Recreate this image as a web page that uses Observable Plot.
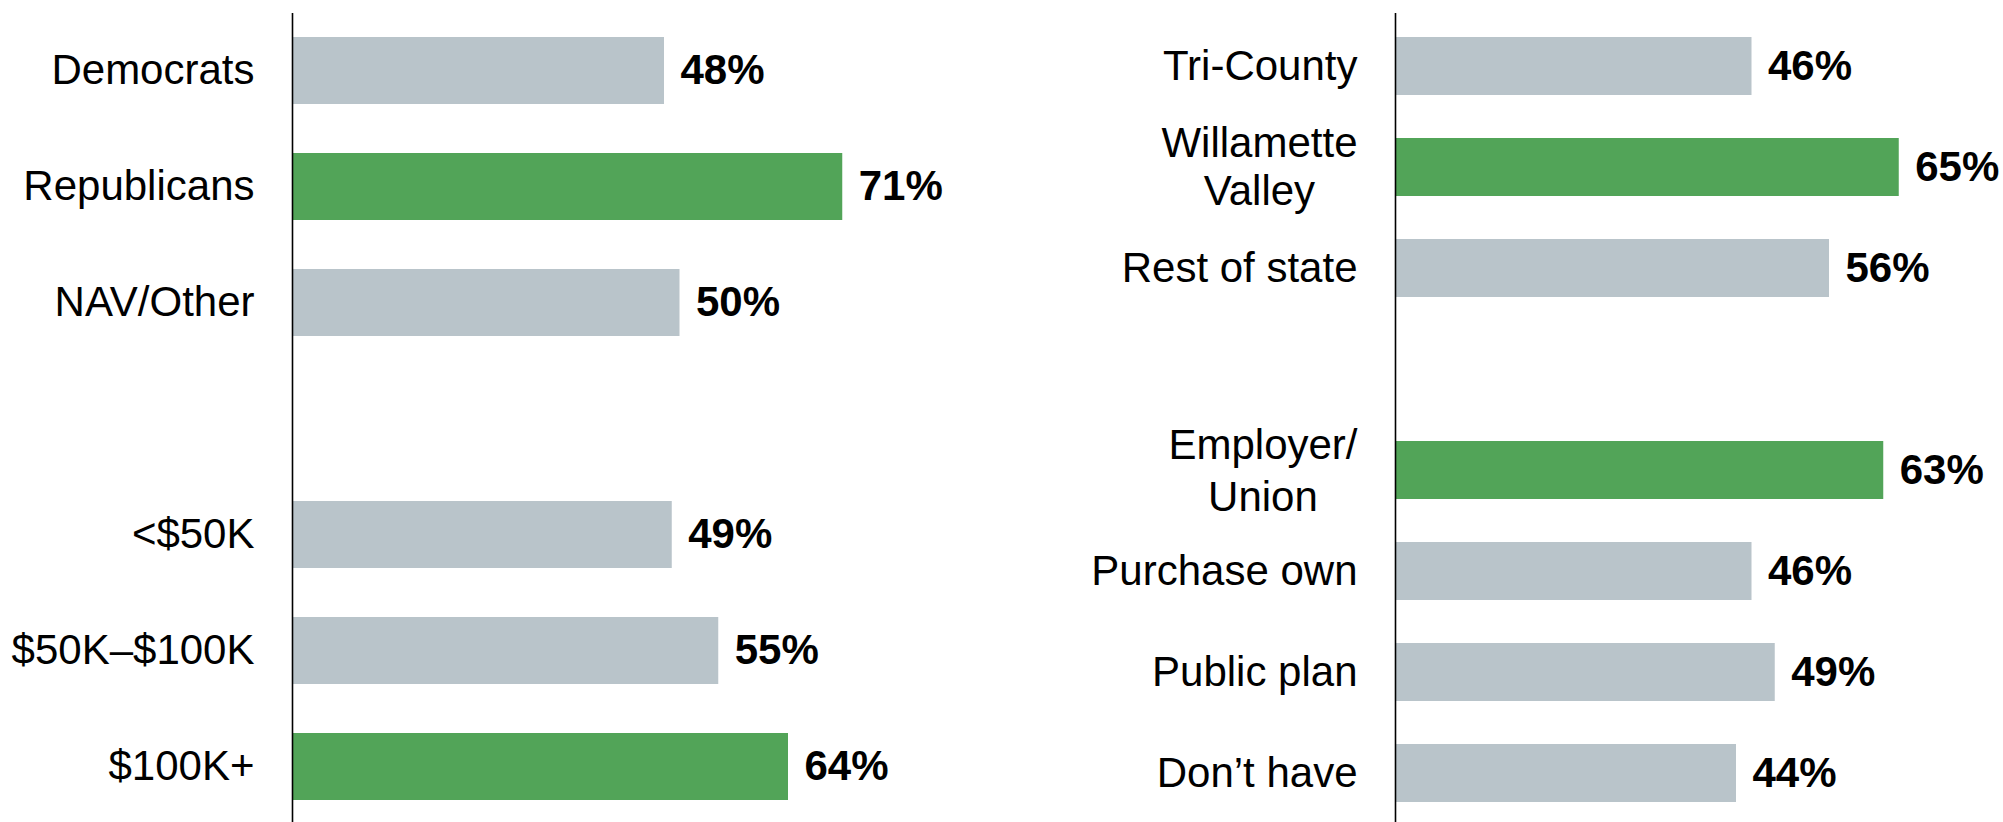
<!DOCTYPE html>
<html>
<head>
<meta charset="utf-8">
<script src="https://cdn.jsdelivr.net/npm/d3@7"></script>
<script src="https://cdn.jsdelivr.net/npm/@observablehq/plot@0.6"></script>
<style>
  html, body { margin: 0; padding: 0; background: #fff; }
  #wrap { display: flex; width: 2003px; height: 822px; overflow: hidden; }
  #wrap svg { display: block; }
</style>
</head>
<body>
<div id="wrap"></div>
<script>
// ---- data ----
const leftCategories = ["Democrats", "Republicans", "NAV/Other", "<$50K", "$50K–$100K", "$100K+"];
const leftValues = [48, 71, 50, 49, 55, 64];
const leftHighlight = [false, true, false, false, false, true];
const leftGroup = [1, 1, 1, 2, 2, 2];

const rightCategories = ["Tri-County", "Willamette\nValley", "Rest of state", "Employer/\nUnion", "Purchase own", "Public plan", "Don’t have"];
const rightValues = [46, 65, 56, 63, 46, 49, 44];
const rightHighlight = [false, true, false, true, false, false, false];
const rightGroup = [1, 1, 1, 2, 2, 2, 2];

const GRAY = "#B9C4CA";
const GREEN = "#52A458";
const FONT = "'Liberation Sans', Arial, Helvetica, sans-serif";
const FS = 42;
// line spacing for two-line labels (style, by label)
const LINE_HEIGHT = {"Willamette\nValley": 1.16, "Employer/\nUnion": 1.24};

const ctx = document.createElement("canvas").getContext("2d");
ctx.font = `${FS}px ${FONT}`;
const measure = s => Math.max(...s.split("\n").map(l => ctx.measureText(l).width));

function panel({cats, vals, hi, grp, width, axisX, yRange, padInner}) {
  const data = cats.map((c, i) => ({cat: c, v: vals[i], hi: hi[i], g: grp[i]}));
  const domain = [];
  data.forEach((d, i) => {
    if (i > 0 && d.g !== data[i - 1].g) domain.push("__gap" + i);
    domain.push(d.cat);
  });
  const single = data.filter(d => !d.cat.includes("\n"));
  const multi = data.filter(d => d.cat.includes("\n"));
  const gap = 38;
  return Plot.plot({
    width, height: 822,
    marginTop: 13, marginBottom: 0, marginLeft: axisX, marginRight: 0,
    style: {fontFamily: FONT, background: "white", overflow: "visible"},
    x: {domain: [0, 100], range: [axisX, axisX + 775], axis: null},
    y: {domain, range: yRange, paddingInner: padInner, paddingOuter: padInner / 2, axis: null},
    marks: [
      Plot.barX(data, {x: "v", y: "cat", fill: d => d.hi ? GREEN : GRAY}),
      Plot.ruleX([0], {stroke: "#000", strokeWidth: 1.6}),
      Plot.text(data, {x: "v", y: "cat", text: d => d.v + "%", textAnchor: "start", dx: 16,
        fontSize: FS, fontWeight: "bold", fill: "#000"}),
      Plot.text(single, {x: 0, y: "cat", text: "cat", textAnchor: "end", dx: -gap,
        fontSize: FS, fill: "#000"}),
      ...multi.map(d => Plot.text([d], {x: 0, y: "cat", text: "cat", textAnchor: "middle",
        dx: -(gap + measure(d.cat) / 2), dy: -2, lineHeight: LINE_HEIGHT[d.cat] || 1.2,
        fontSize: FS, fill: "#000"}))
    ]
  });
}

const wrap = document.getElementById("wrap");
wrap.append(panel({cats: leftCategories, vals: leftValues, hi: leftHighlight, grp: leftGroup,
  width: 1000, axisX: 292, yRange: [11.8, 826.2], padInner: 0.42}));
wrap.append(panel({cats: rightCategories, vals: rightValues, hi: rightHighlight, grp: rightGroup,
  width: 1003, axisX: 395, yRange: [12.1, 826.9], padInner: 0.43}));
</script>
</body>
</html>
